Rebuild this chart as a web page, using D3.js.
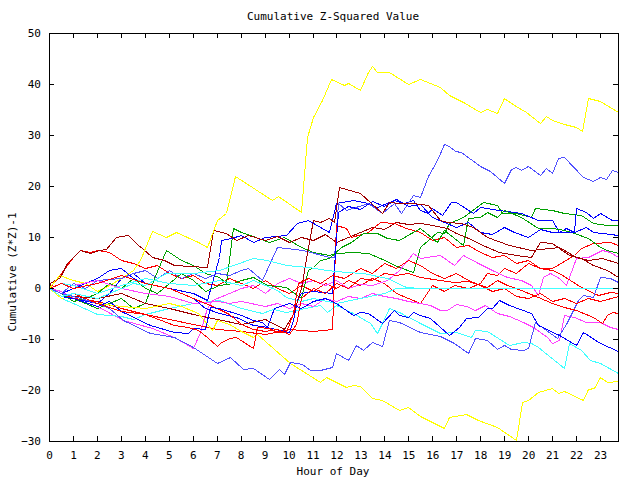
<!DOCTYPE html>
<html>
<head>
<meta charset="utf-8">
<script src="https://cdn.jsdelivr.net/npm/d3@7"></script>
<style>
  body { margin: 0; background: #fff; }
  text { font-family: "DejaVu Sans Mono", monospace; font-size: 11px; fill: #000; }
  .series { fill: none; stroke-width: 1; shape-rendering: crispEdges; }
</style>
</head>
<body>
<svg width="640" height="480"></svg>
<script>
// hour ticks and value ticks
var hourTicks = d3.range(0, 24);
var valueTicks = [50, 40, 30, 20, 10, 0, -10, -20, -30];

// each series: [hour of day, cumulative (z*z)-1]
var yellowHi = [[0,0],[0.4,2.5],[1,1.5],[1.5,1],[2,-0.5],[2.5,0.5],[3,2],[3.5,3.5],[3.8,5.5],[4.3,11.2],[4.9,10],[5.3,11],[5.75,10],[6.2,9],[6.6,8],[7,13.3],[7.4,14.7],[7.76,22],[8.6,19.4],[9.3,17.3],[9.56,18],[10.5,15],[10.75,29.6],[11,33.5],[11.4,36.9],[11.77,41],[12.3,39.8],[12.5,40.2],[13,38.8],[13.3,42.4],[13.5,43.5],[13.7,42.4],[14.2,42.4],[15,40],[15.5,41],[16.3,39.4],[16.7,37.8],[17.3,36.5],[18,34.5],[18.3,35.1],[18.7,34.3],[19,37.3],[19.4,35.9],[19.9,34.5],[20.5,32.3],[20.75,33.7],[21,32.9],[21.5,32.1],[22,31.6],[22.25,30.8],[22.5,37.3],[23,36.7],[23.75,34.5]];
var yellowLo = [[0,0],[0.5,-2],[1,-1.5],[2,-3],[3,-3.5],[4,-4],[5,-3],[5.5,-3.5],[6.2,-4.9],[6.8,-8.2],[7,-6.3],[7.5,-7],[8,-8.5],[8.5,-9.6],[8.7,-9],[10.06,-14.7],[11.3,-18.4],[11.55,-17.5],[12,-18.4],[12.4,-19.4],[12.7,-19],[13,-19.2],[13.5,-21.6],[13.9,-22],[14.6,-24],[15,-23.3],[15.5,-25],[16,-26.3],[16.5,-27.5],[16.7,-25.3],[17.4,-24.7],[17.9,-25.9],[18.7,-27.3],[19.5,-29.8],[19.75,-22.4],[20,-22],[20.4,-20.4],[21,-19.6],[21.25,-20.6],[21.5,-20.2],[22.3,-22],[22.5,-19.8],[22.75,-19.6],[23,-17.5],[23.3,-18.4],[23.75,-18.2]];
var lightBlueHi = [[0,0],[0.5,-1],[1,1],[1.5,0],[2,1.5],[3,2],[3.5,3],[4,3.5],[4.5,2],[5,3.5],[5.5,2],[6,3],[6.5,2],[7,3],[7.5,2.5],[8,3.5],[8.3,3.9],[8.9,1.6],[9.5,8],[10.6,7.5],[11.7,6.1],[11.9,6],[12.05,16.7],[12.4,15.3],[13.3,16.7],[13.9,14.7],[14.4,16.7],[14.7,14.7],[15.2,18.2],[15.5,17.8],[15.8,22],[16.2,25.1],[16.5,28.2],[16.7,27.8],[16.95,26.9],[17.2,26.7],[18,23.9],[18.4,22.9],[19,20.6],[19.3,23.3],[19.5,23.7],[19.7,23.1],[20,23.9],[20.5,22.2],[20.75,23.5],[21,22.5],[21.25,25.5],[21.5,25.7],[22.3,21.8],[22.7,21],[23,21.8],[23.25,21.4],[23.5,23.1],[23.75,22.7]];
var lightBlueLo = [[0,0],[0.5,-1],[1,-1.5],[2,-3],[2.5,-4],[3.1,-6.3],[4.2,-8.8],[5.2,-9.6],[6,-11.6],[7,-14.7],[7.55,-13.5],[8.1,-15.9],[8.5,-15.7],[9.2,-17.8],[9.6,-15.9],[9.8,-16.9],[10.06,-14.5],[10.55,-14.9],[10.9,-16.1],[11.3,-16.1],[11.8,-15.5],[12,-12.7],[12.5,-14.1],[12.8,-11.2],[13.1,-12.2],[13.5,-10.6],[13.9,-11.4],[14.2,-6.3],[14.6,-6.7],[15.5,-8.7],[16.3,-9.4],[16.9,-10.8],[17.5,-12.7],[17.8,-9.8],[18.3,-10.2],[18.7,-12],[19,-11.2],[19.3,-12],[19.8,-12.2],[20,-11.8],[20.3,-6.7],[21.2,-9.8],[21.6,-7],[22.1,-2.4],[22.3,-1.4],[22.7,-1.8],[23,2.2],[23.4,2],[23.75,1.2]];
var cyanFlat = [[0,0],[0.5,-1.5],[1,-1],[2,-2],[3,0],[3.5,1],[4,0.5],[4.9,2.9],[6,3],[7.1,3.5],[8.5,5.9],[9.1,5.5],[9.9,4.5],[10.8,4.1],[11.6,3.5],[12.4,3.1],[13.1,2.9],[14.1,2],[14.9,0.2],[15.5,0],[23.75,0]];
var cyanMid = [[0,0],[0.5,1],[1,0.5],[2,-1],[3,0.5],[4,2],[5,1],[6,0.5],[7.1,1.6],[8,0.6],[8.5,1.6],[9.5,-0.4],[9.9,-1.8],[10.5,-2.5],[11,-2],[12,-3],[13,-2],[14,-1],[14.5,0],[23.75,0]];
var cyanLo = [[0,0],[0.5,-2],[1,-3],[2,-5],[3,-5.5],[3.5,-6],[4,-5],[5,-4],[6,-3],[7.1,-2.4],[8,-3.9],[8.9,-4.9],[9.35,-4.1],[9.9,-4.7],[11.3,-3.3],[11.6,-4.7],[12,-3.3],[12.7,-4.9],[13.4,-6.9],[13.7,-8.8],[13.9,-6.9],[14.2,-3.9],[14.6,-4.7],[15.5,-6.8],[16.3,-8.8],[17,-8.6],[17.6,-9.6],[17.8,-8.2],[18.3,-8.4],[19.2,-11.2],[19.8,-10.6],[20.1,-10.8],[20.4,-11.6],[21.5,-15.7],[21.7,-10.8],[22.2,-12.2],[22.6,-14.1],[23,-14.7],[23.75,-16.7]];
var blueA = [[0,0],[0.5,-1],[1,-2],[2,-3],[2.5,-1],[3,2],[3.5,3],[4,1],[5,0],[6,-1],[6.6,-2.4],[7.1,6.1],[7.2,9.4],[7.6,9.8],[8,10.4],[8.5,9],[9,10],[9.9,10.4],[10.35,12.7],[10.8,13.3],[11.3,12],[11.7,11],[12,16.7],[12.7,17.3],[13.3,16.7],[13.7,15.9],[14.4,17.3],[14.8,16.7],[15.2,17.3],[15.5,15.3],[15.8,14.7],[16,15.7],[16.4,14.3],[16.8,16.9],[17,16.9],[17.7,14.7],[18,15.9],[18.8,15.3],[19.7,14.7],[20.4,13.3],[21,13.3],[21.3,11],[21.6,11.8],[21.9,11],[22,15.7],[22.4,14.9],[22.7,13.7],[23,14.7],[23.5,13.3],[23.75,13.3]];
var blueB = [[0,0],[0.5,-1],[1,0],[1.5,1],[2,2],[2.5,3.5],[3,4],[3.5,2],[4,1],[5,0],[6,-2],[6.5,-4],[7.1,-4.9],[7.8,-5.7],[8.5,-7.3],[8.9,-7.5],[10,-8.6],[10.2,-6.3],[10.35,-2.4],[10.5,-1],[11,-0.5],[11.8,-1],[12.05,15],[12.5,16],[13,15.5],[13.5,17],[14,16],[14.5,17.5],[15,16],[15.5,16.5],[16,14],[16.5,13],[17,12],[17.5,13],[18,11],[18.5,10.5],[19,12],[19.4,11],[20,10],[20.5,11.5],[21,11],[21.9,11],[22.4,12],[22.7,11],[23.1,10.8],[23.75,10.4]];
var blueLo = [[0,0],[0.5,-1.5],[1,-2],[2,-3.5],[2.5,-2.5],[3,-4.5],[4.2,-7.3],[5.2,-8.6],[5.8,-8.8],[6,-7.8],[6.5,-8],[6.7,-3.7],[7.1,-3.9],[8,-5.3],[8.5,-6.3],[8.9,-6.7],[9.1,-7.6],[9.4,-4],[10,-3],[10.5,-4],[11,-2.5],[11.5,-2],[12,-2.9],[12.7,-5.3],[13,-4.7],[13.3,-4.9],[13.9,-6.9],[14.4,-4.3],[14.6,-5.3],[15,-5.7],[15.2,-4.7],[15.5,-5.3],[15.9,-5.9],[16.7,-9.2],[17.1,-7.6],[17.4,-5.9],[17.9,-5.7],[18.3,-3.9],[18.5,-3.9],[18.8,-2.4],[19.2,-3.3],[20.1,-4.9],[20.4,-7.3],[21.3,-9.2],[22,-11.2],[22.3,-8.6],[23,-10.8],[23.75,-12.4]];
var greenA = [[0,0],[0.5,-1],[1,-2],[1.5,-3],[2,-4],[2.5,-3],[3,-2],[3.5,-4],[4,-3],[4.4,2],[4.9,7.5],[5.5,5.5],[6,4.5],[6.5,3],[7.1,2.2],[7.4,1],[7.7,11.8],[8,11],[8.4,10.4],[9.2,9],[9.8,10],[10.5,8],[11,7.1],[11.7,6.5],[12,6.9],[12.7,7.1],[13.3,6.9],[13.8,5.9],[14.6,4.1],[15.2,3.1],[15.5,8],[16.2,11],[16.5,10.8],[16.7,12.7],[17.3,13.9],[18.1,16.9],[18.7,16.3],[18.9,14.7],[19.5,14.7],[20.1,13.9],[20.3,15.7],[21,15.3],[21.5,14.7],[22.2,14.3],[22.7,12.7],[23.3,12.4],[23.75,12.4]];
var greenB = [[0,0],[0.5,-1],[1,-2.5],[1.5,-2],[2,-1],[2.5,1],[3,0],[3.5,2],[4,0],[4.5,-1],[5,1],[5.5,3],[6,1.5],[6.5,-0.5],[7.1,0.6],[7.7,1],[8,1.6],[8.5,2.2],[9.1,0.6],[9.9,0.2],[10.5,-2],[10.8,3.5],[11,4.1],[11.3,5.5],[11.7,5.9],[12.2,8],[12.6,9],[13.1,10.8],[13.7,10.8],[14.1,9.8],[14.6,9.4],[15.1,10.8],[15.5,11.8],[16.2,9],[16.5,11.4],[17.3,8.4],[17.5,13.7],[18,13.9],[18.3,14.9],[18.7,13.9],[19,15.3],[19.7,13.9],[20.4,11.8],[21,11.8],[21.5,11.4],[21.9,10.8],[22.5,9.8],[23,8],[23.3,7.5],[23.75,6.9]];
var darkRedA = [[0,0],[0.05,1],[0.46,2.2],[0.75,4.9],[1,6.1],[1.3,7.5],[1.7,6.9],[2.1,7.5],[2.4,7.6],[2.8,10],[3.3,10.4],[3.7,8.4],[3.9,7.8],[4.3,6.1],[4.8,5.5],[5.2,4.5],[6.6,4.1],[6.85,11.4],[7.4,10.8],[7.8,9.4],[8.3,10.3],[9,9.5],[9.5,10.2],[10,9],[10.5,10],[11,9.5],[11.5,10.5],[12,9],[12.5,10],[13,11],[13.5,12],[14,11.5],[14.5,13],[15,12.5],[15.5,12.7],[16,12.4],[16.6,11.8],[17,10.8],[17.4,10],[18.3,8],[18.8,7.1],[19.5,6.5],[20.1,6.1],[20.5,9],[21,8.8],[21.3,7.8],[21.7,6.5],[22.2,5.9],[22.7,4.5],[23.3,3.5],[23.75,2.2]];
var darkRedB = [[0,0],[0.5,-1],[1,-1.5],[2,-2],[3,-1],[4,-3],[5,-4],[6,-5],[7,-6],[8,-7],[9,-6],[9.8,-8],[10.2,-5],[10.5,0],[10.8,8],[11,13.3],[11.3,12.9],[11.7,13.7],[11.9,13],[12.1,19.8],[13,18.6],[13.9,14.7],[14.2,16.9],[14.6,16.7],[15.2,16.7],[15.8,16.3],[16.3,13.3],[16.6,12.9],[17.2,12.7],[17.7,12],[18.3,10],[19.2,8.4],[20.1,7.5],[21.3,8],[22,6.1],[22.5,5.5],[23.1,5.9],[23.75,4.9]];
var redA = [[0,0],[0.5,3],[1,6],[1.3,7.5],[1.7,7],[2,7.5],[2.5,7],[3,5.5],[3.5,5],[4,4],[4.5,4.5],[5,3],[5.5,2],[6,2.5],[6.5,1],[7,0.5],[7.5,2],[8,1],[8.5,0],[9,1.5],[9.5,0],[10,-1],[10.5,0.5],[11,-0.5],[11.5,1],[12,0],[12.5,1.5],[13,0.5],[13.5,2],[14,1],[14.5,-1],[15,-2],[15.5,-2.9],[16,0.6],[16.5,-0.5],[16.9,0.5],[17.5,0],[18,1],[18.3,3],[18.7,2.5],[19,4],[19.5,3],[20,5],[20.5,4],[21,3.9],[21.9,6.5],[22.2,7.8],[22.7,8.8],[23.4,9],[23.75,8.4]];
var redB = [[0,0],[0.5,-1],[1,-2],[2,-2.5],[3,-4],[4,-5],[5,-6],[6,-7],[7,-8],[8,-8.5],[9,-9],[10,-8],[11,-8.5],[11.8,-8],[12,12.4],[12.4,11.8],[12.6,10],[13.3,11],[13.8,12.9],[14.4,12.7],[14.9,11.8],[15.5,11],[16,9.5],[16.5,10],[17,8],[17.5,8.5],[18,7],[18.5,6],[19,6.5],[19.5,5],[20,5.5],[20.5,4],[21,3.5],[21.3,2.9],[22.2,0.2],[22.9,-1.4],[23.4,-0.8],[23.75,-1]];
var redC = [[0,0],[0.5,1],[1,0],[2,1],[3,2.5],[4,1],[5,0],[6,-2],[7,-4],[7.5,-5],[8,-7],[8.5,-8],[9,-8.5],[9.5,-8],[10,-9],[10.3,-7],[10.5,-2],[11,0],[11.5,-1],[12,1],[12.5,0],[13,2],[13.5,1.5],[14,3],[14.5,2.5],[15,3],[15.5,2.2],[16.3,1.6],[16.9,1.2],[17.5,1.4],[18.3,0.2],[18.7,1.6],[19.1,0.6],[19.7,-0.4],[20.4,-1.8],[21,-2.9],[21.5,-3.7],[22,-4.3],[22.7,-5.7],[23.1,-6.9],[23.3,-5.3],[23.5,-4.7],[23.75,-4.9]];
var redD = [[0,0],[0.5,-1.5],[1,-1],[2,-3],[3,-4.5],[4,-5],[5.2,-7.3],[5.8,-7.6],[6.2,-8.2],[6.6,-9.6],[7,-11.4],[7.2,-10.6],[7.55,-9.8],[7.8,-9.6],[8.5,-11.8],[8.7,-7.6],[9.2,-7.8],[9.5,-8.6],[9.9,-8.6],[10.2,-4.9],[10.4,1],[10.8,2],[11.3,1],[11.8,2.5],[12.3,2],[13,4],[13.5,3],[14,5],[14.5,4],[15,5.5],[15.5,4.5],[16,3],[16.5,2],[17,3],[17.5,1.5],[18,0.5],[18.5,-0.5],[19,0],[19.5,-1.5],[20,-2],[20.5,-1],[21,-2.5],[21.5,-2],[22,-3],[22.5,-2],[23,-2.5],[23.75,-1.5]];
var magentaA = [[0,0],[0.5,-0.5],[1,-2],[2,-3.5],[3.1,-6.3],[4.3,-7.8],[5.2,-9.6],[6,-11.8],[6.3,-8.6],[6.6,-4],[6.8,-2.4],[7.5,-1],[8,0],[8.5,0.5],[9,-1],[9.5,1],[10,2],[10.5,1],[11,1.5],[11.5,0.5],[12,1.5],[12.5,0],[13,0.8],[13.5,0.5],[14.1,1.6],[14.6,3.5],[15.2,6.9],[15.5,5.9],[16.3,6.5],[16.9,4.5],[17.3,6.5],[17.9,4.9],[18.5,3.5],[19.1,2.2],[19.7,1.6],[20.1,0.6],[20.4,-1.4],[20.6,2.2],[20.9,2.9],[21.3,2],[21.6,0.6],[22,5.9],[22.5,6.1],[23.1,7.5],[23.4,7],[23.75,6.1]];
var magentaB = [[0,0],[0.5,1],[1,0.5],[2,1.5],[3,0],[4,-1],[5,-1.5],[6,-3],[7,-2.5],[7.5,-3],[8,-2.5],[9,-3.5],[9.5,-3],[10,-4],[10.5,-3],[11,-3.5],[11.5,-2],[12,-2.5],[12.5,-1.5],[13,-2],[13.5,-1],[14,-1.5],[14.5,-2],[15,-2.5],[15.5,-2.9],[15.9,-3.3],[16.3,-4.3],[16.6,-4.3],[17,-3.1],[17.4,-3.5],[17.8,-4.3],[18.2,-3.3],[18.7,-4.9],[19.2,-5.5],[19.8,-6.7],[20.2,-7.6],[20.8,-9.6],[21,-10.8],[21.3,-10.2],[21.5,-5.3],[21.9,-5.7],[22.4,-6.7],[23,-6.7],[23.4,-7.6],[23.75,-8]];

var series = [
  {data: redA, color: "#ff0000"},
  {data: greenA, color: "#00a000"},
  {data: blueA, color: "#0000ff"},
  {data: magentaA, color: "#ff40ff"},
  {data: cyanLo, color: "#40ffff"},
  {data: darkRedA, color: "#a00000"},
  {data: yellowHi, color: "#ffff00"},
  {data: lightBlueHi, color: "#5050ff"},
  {data: redB, color: "#ff0000"},
  {data: greenB, color: "#00a000"},
  {data: blueB, color: "#0000ff"},
  {data: magentaB, color: "#ff40ff"},
  {data: cyanMid, color: "#40ffff"},
  {data: darkRedB, color: "#a00000"},
  {data: yellowLo, color: "#ffff00"},
  {data: lightBlueLo, color: "#5050ff"},
  {data: redC, color: "#ff0000"},
  {data: blueLo, color: "#0000ff"},
  {data: redD, color: "#ff0000"},
  {data: cyanFlat, color: "#40ffff"}
];

var svg = d3.select("svg"),
    margin = {top: 33, right: 22, bottom: 39, left: 49},
    width = +svg.attr("width") - margin.left - margin.right,
    height = +svg.attr("height") - margin.top - margin.bottom,
    g = svg.append("g").attr("transform", "translate(" + margin.left + "," + margin.top + ")");

var x = d3.scaleLinear().domain([0, 23.75]).range([0, width]);
var y = d3.scaleLinear().domain([-30, 50]).range([height, 0]);

var line = d3.line()
  .x(function(d) { return Math.round(x(d[0])) + 0.5; })
  .y(function(d) { return Math.round(y(d[1])) + 0.5; });

svg.append("clipPath").attr("id", "clip")
  .append("rect").attr("width", width).attr("height", height);

g.append("g").attr("clip-path", "url(#clip)")
  .selectAll("path")
  .data(series)
  .enter().append("path")
  .attr("class", "series")
  .attr("stroke", function(d) { return d.color; })
  .attr("d", function(d) { return line(d.data); });

// axes, ticks pointing inward on all four sides
g.append("g")
  .attr("transform", "translate(0," + height + ")")
  .call(d3.axisBottom(x).tickValues(hourTicks).tickSizeInner(-5).tickSizeOuter(0).tickPadding(10));
g.append("g")
  .call(d3.axisTop(x).tickValues(hourTicks).tickSizeInner(-5).tickSizeOuter(0).tickFormat(""));
g.append("g")
  .call(d3.axisLeft(y).tickValues(valueTicks).tickSizeInner(-5).tickSizeOuter(0).tickPadding(8));
g.append("g")
  .attr("transform", "translate(" + width + ",0)")
  .call(d3.axisRight(y).tickValues(valueTicks).tickSizeInner(-5).tickSizeOuter(0).tickFormat(""));

g.selectAll(".domain").remove();
g.selectAll(".tick line").attr("stroke", "#000").attr("shape-rendering", "crispEdges");
g.selectAll(".tick text").attr("font-family", "DejaVu Sans Mono").attr("font-size", "11px").attr("fill", "#000");

g.append("rect")
  .attr("x", 0.5).attr("y", 0.5)
  .attr("width", width).attr("height", height)
  .attr("fill", "none").attr("stroke", "#000")
  .attr("shape-rendering", "crispEdges");

svg.append("text")
  .attr("x", 333).attr("y", 20)
  .attr("text-anchor", "middle")
  .text("Cumulative Z-Squared Value");

svg.append("text")
  .attr("x", 333).attr("y", 475)
  .attr("text-anchor", "middle")
  .text("Hour of Day");

svg.append("text")
  .attr("transform", "translate(16,272) rotate(-90)")
  .attr("text-anchor", "middle")
  .text("Cumulative (Z*Z)-1");
</script>
</body>
</html>
